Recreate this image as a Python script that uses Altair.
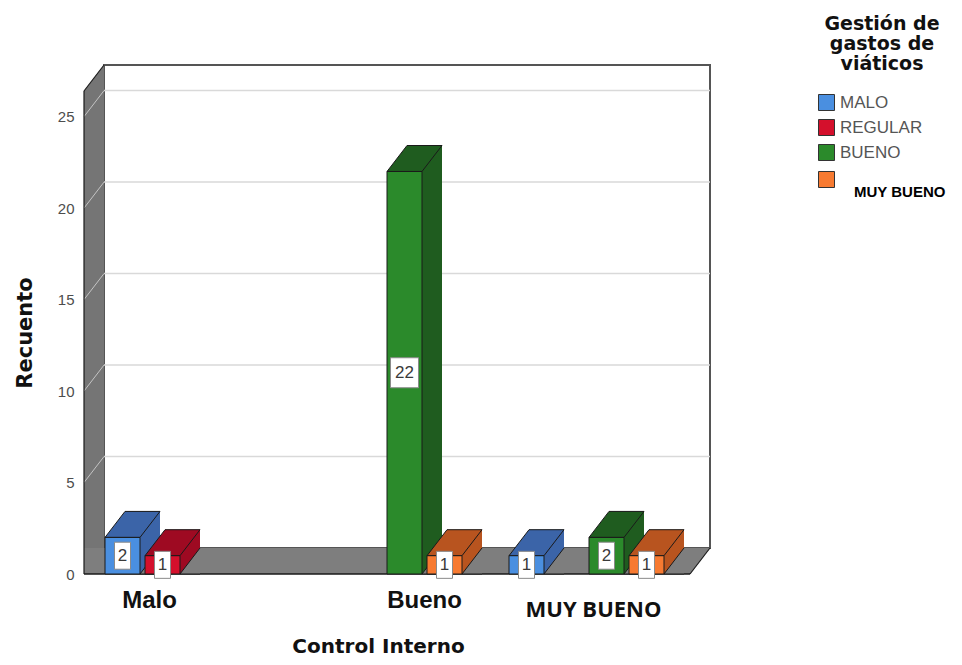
import altair as alt
import pandas as pd

# ---------------- data ----------------
categories = ["Malo", "Bueno", "MUY BUENO"]
series = ["MALO", "REGULAR", "BUENO", "MUY BUENO"]
counts_malo = [2, 1, 0, 0]
counts_bueno = [0, 0, 22, 1]
counts_muy_bueno = [1, 0, 2, 1]
front_colors = ["#4a8fe0", "#d4102c", "#2b8a2b", "#f77a31"]
side_colors = ["#3b64a8", "#9e0a22", "#1f5c1f", "#b8541f"]
y_ticks = [0, 5, 10, 15, 20, 25]
y_top = 26.4

rows = []
for gi, (cat, vals) in enumerate(zip(categories, [counts_malo, counts_bueno, counts_muy_bueno])):
    for si, (s, v) in enumerate(zip(series, vals)):
        if v > 0:
            rows.append({"categoria": cat, "g": gi, "serie": s, "s": si, "recuento": v,
                         "lado": side_colors[si]})
bars = pd.DataFrame(rows)
grid = pd.DataFrame({"v": y_ticks[1:]})
one = alt.Data(values=[{"a": 1}])

# ---------------- geometry / style ----------------
W, H = 606, 483
DX, DY = 20, 26
GROUP = W / len(categories)
SLOT = 40 / GROUP
BARW = 35 / GROUP
START = -80 / GROUP
FLOOR = "#7e7e7e"
WALL = "#757575"
EDGE = "#1a1a1a"

xs = alt.Scale(domain=[-0.5, len(categories) - 0.5], nice=False, zero=False)
ys = alt.Scale(domain=[0, y_top], nice=False)

TOP_PATH = "M-1,0.4727L0.2727,0.4727L1,-0.4727L-0.2727,-0.4727Z"
BOTTOM_TRI = "M0.769,1L-0.769,1L0.769,-1"
CUT_TL = "M-0.769,-1L0.769,-1L-0.769,1Z"
CUT_BR = "M-0.769,1L0.769,1L0.769,-1Z"
BOX_NARROW = "M-0.593,-1L0.593,-1L0.593,1L-0.593,1Z"
BOX_WIDE = "M-0.933,-1L0.933,-1L0.933,1L-0.933,1Z"

x_axis = alt.Axis(
    values=list(range(len(categories))),
    labelExpr=f"{categories}[datum.value]",
    title="Control Interno",
    titleFont="DejaVu Sans", titleFontSize=20, titleFontWeight="bold", titleColor="#111",
    titlePadding=16, titleX=W / 2 - 9, titleAlign="center",
    domain=False, ticks=False, grid=False,
    labelFont={"condition": {"test": "datum.value == 2", "value": "Open Sans"}, "value": "Liberation Sans"},
    labelFontSize={"condition": {"test": "datum.value == 2", "value": 22}, "value": 24},
    labelFontWeight="bold", labelColor="#111",
    labelOffset={"condition": [{"test": "datum.value == 0", "value": -36},
                               {"test": "datum.value == 1", "value": 37}], "value": 4},
    labelPadding={"condition": {"test": "datum.value == 2", "value": 25}, "value": 14},
    labelBaseline="top",
)
y_axis = alt.Axis(
    values=y_ticks, title="Recuento",
    titleFont="DejaVu Sans", titleFontSize=21, titleFontWeight="bold", titleColor="#111",
    titlePadding=22,
    labelFont="Liberation Sans", labelFontSize=15, labelColor="#4d4d4d", labelPadding=10,
    domain=False, ticks=False, grid=False,
)
legend = alt.Legend(
    title=["Gestión de", "gastos de", "viáticos"],
    titleFont="DejaVu Sans", titleFontSize=19, titleFontWeight="bold", titleColor="#111",
    titleLineHeight=20, titleAlign="center", titleAnchor="middle", titlePadding=20,
    orient="none", legendX=734, legendY=-76, padding=0,
    symbolType="square", symbolSize=256, symbolStrokeColor="#333", symbolStrokeWidth=1,
    labelFont="Liberation Sans",
    labelFontSize={"expr": "datum.value == 'MUY BUENO' ? 15 : 17"},
    labelColor={"expr": "datum.value == 'MUY BUENO' ? '#000' : '#555'"},
    labelFontWeight={"expr": "datum.value == 'MUY BUENO' ? 'bold' : 'normal'"},
    labelBaseline={"expr": "datum.value == 'MUY BUENO' ? 'alphabetic' : 'middle'"},
    labelOffset={"expr": "datum.value == 'MUY BUENO' ? 19 : 5"},
    labelExpr="datum.value == 'MUY BUENO' ? ['', datum.label] : datum.label",
    rowPadding=4,
)


def X(field):
    return alt.X(field, scale=xs, axis=x_axis, title="Control Interno")


def Y(field):
    return alt.Y(field, scale=ys, axis=y_axis, title="Recuento")


# ---------------- frame (3D box) ----------------
back_wall = alt.Chart(one).mark_rect(
    fill="white", stroke="#555", strokeWidth=2,
    xOffset=DX, x2Offset=DX, yOffset=-DY, y2Offset=-DY,
).encode(x=alt.value(0), x2=alt.value("width"), y=alt.value(0), y2=alt.value("height"))

back_grid = alt.Chart(grid).mark_rule(
    color="#d9d9d9", strokeWidth=1.5, xOffset=DX, x2Offset=DX, yOffset=-DY,
).encode(x=alt.value(0), x2=alt.value("width"), y=Y("v:Q"))

left_wall = alt.Chart(one).mark_rect(fill=WALL, yOffset=-DY, x2Offset=DX).encode(
    x=alt.value(0), x2=alt.value(0), y=alt.value(0), y2=alt.value("height"))

left_grid = alt.Chart(grid).mark_rule(
    color="#c4c4c4", strokeWidth=1, x2Offset=DX, y2Offset=-DY,
).encode(x=alt.value(0), x2=alt.value(0), y=Y("v:Q"), y2=alt.Y2("v:Q"))

cut_tl = alt.Chart(one).mark_point(
    shape=CUT_TL, size=DY * DY, filled=True, opacity=1, fill="white", strokeWidth=0,
    xOffset=DX / 2, yOffset=-DY / 2,
).encode(x=alt.value(0), y=alt.value(0))

floor = alt.Chart(one).mark_rect(fill=FLOOR, yOffset=-DY, x2Offset=DX).encode(
    x=alt.value(0), x2=alt.value("width"), y=alt.value("height"), y2=alt.value("height"))

cut_br = alt.Chart(one).mark_point(
    shape=CUT_BR, size=DY * DY, filled=True, opacity=1, fill="white", strokeWidth=0,
    xOffset=DX / 2, yOffset=-DY / 2,
).encode(x=alt.value("width"), y=alt.value("height"))

edge_left = alt.Chart(one).mark_rule(color=EDGE, strokeWidth=1.2).encode(
    x=alt.value(0), y=alt.value(0), y2=alt.value("height"))
edge_bottom = alt.Chart(one).mark_rule(color=EDGE, strokeWidth=1.5).encode(
    x=alt.value(0), x2=alt.value("width"), y=alt.value("height"))
edge_tl = alt.Chart(one).mark_rule(color=EDGE, strokeWidth=1.2, x2Offset=DX, y2Offset=-DY).encode(
    x=alt.value(0), x2=alt.value(0), y=alt.value(0), y2=alt.value(0))
edge_br = alt.Chart(one).mark_rule(color=EDGE, strokeWidth=1.2, x2Offset=DX, y2Offset=-DY).encode(
    x=alt.value("width"), x2=alt.value("width"), y=alt.value("height"), y2=alt.value("height"))

# ---------------- bars ----------------
base = alt.Chart(bars).transform_calculate(
    left=f"datum.g + ({START}) + datum.s * {SLOT}",
).transform_calculate(
    right=f"datum.left + {BARW}",
    mid=f"datum.left + {BARW / 2}",
    half="datum.recuento / 2",
    zero="0",
)
side_fill = alt.Fill("lado:N", scale=None)

bar_back = base.mark_rect(xOffset=DX, x2Offset=DX, yOffset=-DY).encode(
    x=X("left:Q"), x2="right:Q", y=Y("recuento:Q"), y2="zero:Q", fill=side_fill,
)
bar_bottom = base.mark_point(
    shape=BOTTOM_TRI, size=DY * DY, filled=True, opacity=1, fill=FLOOR,
    stroke=EDGE, strokeWidth=1, xOffset=DX / 2, yOffset=-DY / 2,
).encode(x=X("right:Q"), y=Y("zero:Q"))

bar_top = base.mark_point(
    shape=TOP_PATH, size=(35 + DX) ** 2, filled=True, opacity=1,
    stroke=EDGE, strokeWidth=1, xOffset=DX / 2, yOffset=-DY / 2,
).encode(x=X("mid:Q"), y=Y("recuento:Q"), fill=side_fill)

bar_front = base.mark_rect(stroke=EDGE, strokeWidth=1).encode(
    x=X("left:Q"), x2="right:Q", y=Y("recuento:Q"), y2="zero:Q",
    color=alt.Color("serie:N", scale=alt.Scale(domain=series, range=front_colors), legend=legend),
)

label_box = base.mark_point(
    filled=True, opacity=1, fill="white", stroke="#8a8a8a", strokeWidth=1,
).encode(
    x=X("mid:Q"), y=Y("half:Q"),
    shape=alt.condition("datum.recuento >= 10", alt.value(BOX_WIDE), alt.value(BOX_NARROW)),
    size=alt.condition("datum.recuento >= 10", alt.value(900), alt.value(729)),
)
label_text = base.mark_text(
    font="Liberation Sans", fontSize=17, color="#3a3a3a", baseline="middle", align="center",
).encode(x=X("mid:Q"), y=Y("half:Q"), text="recuento:Q")

chart = alt.layer(
    back_wall, back_grid, left_wall, left_grid, cut_tl, floor, cut_br,
    edge_left, edge_bottom, edge_tl, edge_br,
    bar_back, bar_bottom, bar_top, bar_front, label_box, label_text,
).properties(
    width=W, height=H,
    autosize=alt.AutoSizeParams(type="none"),
    padding={"left": 76, "top": 83, "right": 264, "bottom": 82},
    background="white",
).configure_view(stroke=None)

chart.save("out.html", embed_options={"renderer": "svg", "actions": False})
